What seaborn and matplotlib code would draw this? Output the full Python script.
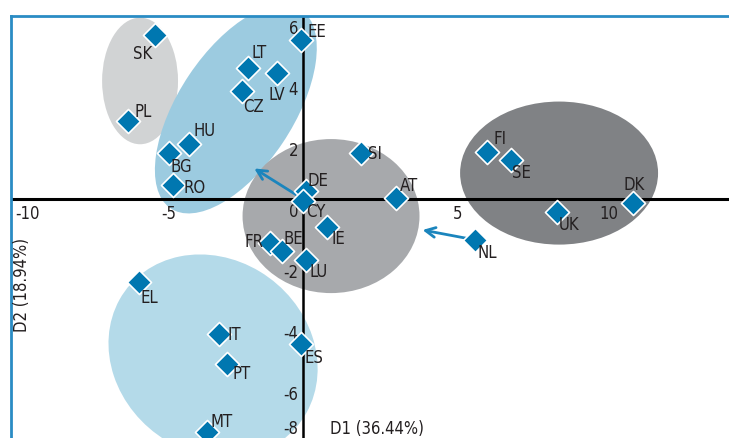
import pandas as pd
import matplotlib
matplotlib.use("Agg")
import matplotlib.pyplot as plt
import seaborn as sns
from matplotlib.patches import Ellipse

# Country scores on the first two discriminant axes
countries = ["SK", "PL", "EE", "LT", "LV", "CZ", "HU", "BG", "RO",
             "DE", "CY", "SI", "AT", "IE", "FR", "BE", "LU", "NL",
             "FI", "SE", "UK", "DK", "EL", "IT", "PT", "ES", "MT"]
d1 = [-5.07, -5.99, -0.07, -1.88, -0.89, -2.09, -3.90, -4.59, -4.45,
      0.10, 0.00, 1.99, 3.18, 0.82, -1.13, -0.72, 0.10, 5.89,
      6.30, 7.12, 8.70, 11.30, -5.62, -2.88, -2.60, -0.07, -3.29]
d2 = [5.38, 2.56, 5.21, 4.30, 4.13, 3.54, 1.80, 1.51, 0.46,
      0.26, -0.05, 1.51, 0.03, -0.92, -1.44, -1.70, -2.00, -1.34,
      1.54, 1.28, -0.43, -0.13, -2.72, -4.43, -5.41, -4.75, -7.64]

x_ticks = [-10, -5, 5, 10]
y_ticks = [6, 4, 2, 0, -2, -4, -6]

df = pd.DataFrame({"country": countries, "D1": d1, "D2": d2})

# label offsets in pixels (dx, dy) relative to each marker
label_off = {
    "SK": (-12, -18), "PL": (15, 10), "EE": (16, 9), "LT": (11, 16),
    "LV": (0, -21), "CZ": (11, -15), "HU": (15, 14), "BG": (12, -13),
    "RO": (22, -2), "DE": (12, 11), "CY": (13, -10), "SI": (14, 0),
    "AT": (13, 13), "IE": (11, -11), "FR": (-16, 2), "BE": (11, 13),
    "LU": (13, -11), "NL": (12, -12), "FI": (13, 14), "SE": (11, -12),
    "UK": (12, -12), "DK": (1, 19), "EL": (10, -15), "IT": (15, 0),
    "PT": (15, -9), "ES": (13, -13), "MT": (15, 11),
}

# cluster ellipses: centre x, centre y, width, height, angle, colour
clusters = [
    (-5.58, 3.87, 2.6, 4.15, 0, "#d1d3d4"),
    (-2.3, 2.95, 7.9, 3.9, 55, "#9ccbe0"),
    (0.96, -0.56, 6.06, 5.05, 0, "#a7a9ac"),
    (8.77, 0.85, 6.78, 4.69, 0, "#808285"),
    (-3.08, -5.15, 7.4, 6.4, -30, "#b4dae9"),
]

sns.set_style("white")
plt.rcParams["font.family"] = ["DejaVu Sans"]
plt.rcParams["font.stretch"] = "condensed"
txt = dict(fontsize=12, color="#231f20", fontstretch="condensed")

fig = plt.figure(figsize=(7.29, 4.39), dpi=100)
ax = fig.add_axes([11 / 729, 0, 718 / 729, 422 / 439])
ax.set_xlim(-10, -10 + 718 / 29.2)
ax.set_ylim(6 - 422 / 30.5, 6)

for cx, cy, w, h, ang, col in clusters:
    ax.add_patch(Ellipse((cx, cy), w, h, angle=ang, facecolor=col,
                         edgecolor="none", zorder=1))

ax.axhline(0, color="black", lw=2.2, zorder=2)
ax.axvline(0, color="black", lw=1.8, zorder=2)

arrow_kw = dict(arrowstyle="->,head_length=0.7,head_width=0.35",
                color="#1b85bd", lw=2)
nl = df.set_index("country").loc["NL"]
ax.annotate("", xy=(-1.75, 1.05), xytext=(0.0, 0.0), arrowprops=arrow_kw, zorder=3)
ax.annotate("", xy=(4.0, -1.0), xytext=(nl.D1, nl.D2), arrowprops=arrow_kw, zorder=3)

sns.scatterplot(data=df, x="D1", y="D2", marker="D", s=150, color="#0077b0",
                edgecolor="white", linewidth=1.2, zorder=4, ax=ax, legend=False)

for _, r in df.iterrows():
    dx, dy = label_off[r.country]
    ax.annotate(r.country, (r.D1, r.D2), xytext=(dx, dy), textcoords="offset pixels",
                ha="center", va="center", zorder=5, **txt)

# tick labels sit just below/right of the tick position
for t in x_ticks:
    ax.annotate(str(t), (t, 0), xytext=(4, -5), textcoords="offset pixels",
                ha="left", va="top", **txt)
for t in y_ticks:
    ax.annotate(str(t), (0, t), xytext=(-5, -3), textcoords="offset pixels",
                ha="right", va="top", **txt)
# the -8 label sits at the bottom edge of the panel
ax.annotate("-8", (0, ax.get_ylim()[0]), xytext=(-5, 1), textcoords="offset pixels",
            ha="right", va="bottom", annotation_clip=False, **txt)

ax.set_xticks([])
ax.set_yticks([])
ax.set_xlabel("")
ax.set_ylabel("")
for side in ["right", "bottom"]:
    ax.spines[side].set_visible(False)
for side in ["top", "left"]:
    ax.spines[side].set_color("#2a8cc4")
    ax.spines[side].set_linewidth(2)

fig.text(22 / 729, 1 - 285 / 439, "D2 (18.94%)", rotation=90, ha="center",
         va="center", **txt)
fig.text(377 / 729, 1 - 429 / 439, "D1 (36.44%)", ha="center", va="center", **txt)

plt.savefig("out.png", dpi=100)
